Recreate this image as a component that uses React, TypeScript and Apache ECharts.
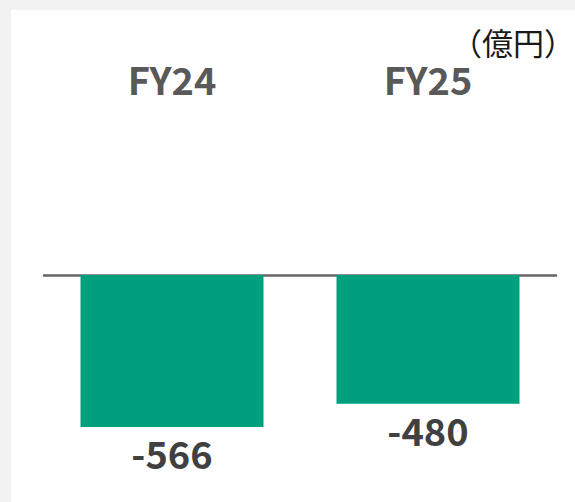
import React, { useEffect, useRef } from "react";
import * as echarts from "echarts";

const categories = ["FY24", "FY25"];
const values = [-566, -480];
const unitLabel = "（億円）";

const FONT = '"Noto Sans CJK JP", "Noto Sans", sans-serif';

export default function App() {
  const ref = useRef<HTMLDivElement>(null);
  useEffect(() => {
    if (!ref.current) return;
    const chart = echarts.init(ref.current, null, { renderer: "svg" });
    chart.setOption({
      animation: false,
      backgroundColor: "#f2f2f2",
      textStyle: { fontFamily: FONT },
      graphic: [
        {
          type: "rect",
          z: -10,
          shape: { x: 11, y: 10, width: 564, height: 492 },
          style: { fill: "#ffffff" },
        },
        {
          type: "text",
          right: 0,
          top: 26,
          style: {
            text: unitLabel,
            font: `normal 31px ${FONT}`,
            fill: "#1a1a1a",
          },
        },
      ],
      grid: { left: 44, right: 19, top: 275, bottom: 15, containLabel: false },
      xAxis: [
        {
          type: "category",
          data: categories,
          axisLine: { show: true, onZero: true, lineStyle: { color: "#666666", width: 2.5 } },
          axisTick: { show: false },
          axisLabel: { show: false },
        },
        {
          type: "category",
          data: categories,
          position: "top",
          axisLine: { show: false },
          axisTick: { show: false },
          axisLabel: {
            show: true,
            margin: 178,
            fontSize: 38,
            fontWeight: "bold",
            color: "#595959",
            fontFamily: FONT,
          },
        },
      ],
      yAxis: {
        type: "value",
        min: -790,
        max: 0,
        show: false,
        splitLine: { show: false },
      },
      series: [
        {
          type: "bar",
          data: values,
          barWidth: 183,
          itemStyle: { color: "#00a07f" },
          label: {
            show: true,
            position: "bottom",
            distance: 7,
            fontSize: 38,
            fontWeight: "bold",
            color: "#404040",
            fontFamily: FONT,
          },
        },
      ],
    });
    return () => chart.dispose();
  }, []);
  return (
    <div
      ref={ref}
      style={{ position: "fixed", left: 0, top: 0, width: 575, height: 502 }}
    />
  );
}
